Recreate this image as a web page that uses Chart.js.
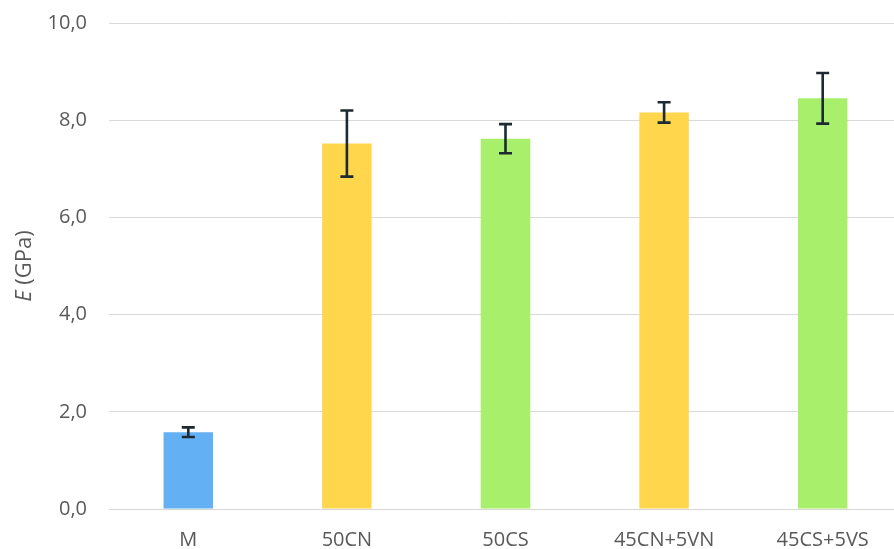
<!DOCTYPE html>
<html>
<head>
<meta charset="utf-8">
<script src="https://cdn.jsdelivr.net/npm/chart.js@4/dist/chart.umd.min.js"></script>
<style>
  html, body { margin: 0; padding: 0; background: #ffffff; overflow: hidden; }
  #wrap { position: relative; width: 902px; height: 549px; }
</style>
</head>
<body>
<div id="wrap"><canvas id="chart"></canvas></div>
<script>
// Young's modulus per sample, mean and standard deviation (GPa)
const categories = ['M', '50CN', '50CS', '45CN+5VN', '45CS+5VS'];
const modulus    = [1.58, 7.52, 7.62, 8.16, 8.45];
const deviation  = [0.10, 0.68, 0.30, 0.21, 0.52];
const barColors  = ['#63b1f4', '#ffd64c', '#a8ef6b', '#ffd64c', '#a8ef6b'];
const yTickLabels = ['0,0', '2,0', '4,0', '6,0', '8,0', '10,0'];
const axisTitleItalic = 'E';
const axisTitleRest = ' (GPa)';

const textColor = '#595959';
const fontFamily = '"Open Sans", sans-serif';

// Whiskers: vertical line from mean-sd to mean+sd with short caps
const errorBars = {
  id: 'errorBars',
  afterDatasetsDraw(chart) {
    const ctx = chart.ctx;
    const y = chart.scales.y;
    const meta = chart.getDatasetMeta(0);
    ctx.save();
    ctx.strokeStyle = '#1c2a32';
    ctx.lineWidth = 2.6;
    meta.data.forEach((bar, i) => {
      const x = bar.x;
      const top = y.getPixelForValue(modulus[i] + deviation[i]);
      const bot = y.getPixelForValue(modulus[i] - deviation[i]);
      const cap = 6.5;
      ctx.beginPath();
      ctx.moveTo(x, top); ctx.lineTo(x, bot);
      ctx.moveTo(x - cap, top); ctx.lineTo(x + cap, top);
      ctx.moveTo(x - cap, bot); ctx.lineTo(x + cap, bot);
      ctx.stroke();
    });
    ctx.restore();
  }
};

// Vertical axis title with an italic symbol followed by the unit
const axisTitle = {
  id: 'axisTitle',
  afterDraw(chart) {
    const ctx = chart.ctx;
    const size = 22;
    const italicFont = 'italic ' + size + 'px ' + fontFamily;
    const normalFont = size + 'px ' + fontFamily;
    ctx.save();
    ctx.font = italicFont;
    const w1 = ctx.measureText(axisTitleItalic).width;
    ctx.font = normalFont;
    const w2 = ctx.measureText(axisTitleRest).width;
    const cx = 25;
    const cy = (chart.chartArea.top + chart.chartArea.bottom) / 2;
    ctx.translate(cx, cy);
    ctx.rotate(-Math.PI / 2);
    ctx.fillStyle = textColor;
    ctx.textBaseline = 'middle';
    ctx.textAlign = 'left';
    const start = -(w1 + w2) / 2;
    ctx.font = italicFont;
    ctx.fillText(axisTitleItalic, start, 0);
    ctx.font = normalFont;
    ctx.fillText(axisTitleRest, start + w1, 0);
    ctx.restore();
  }
};

new Chart(document.getElementById('chart'), {
  type: 'bar',
  data: {
    labels: categories,
    datasets: [{
      data: modulus,
      backgroundColor: barColors,
      borderWidth: 0,
      categoryPercentage: 1.0,
      barPercentage: 0.312
    }]
  },
  options: {
    responsive: true,
    maintainAspectRatio: false,
    animation: false,
    layout: { padding: { top: 23, left: 0, right: 0, bottom: 0 } },
    plugins: {
      legend: { display: false },
      tooltip: { enabled: false }
    },
    scales: {
      x: {
        grid: { display: false, drawTicks: false },
        border: { display: true, color: '#d6d6d6', width: 1 },
        ticks: {
          color: textColor,
          font: { family: fontFamily, size: 20 },
          padding: 19,
          maxRotation: 0
        },
        afterFit(scale) {
          scale.height = 40;
          scale.paddingLeft = 0;
          scale.paddingRight = 0;
        }
      },
      y: {
        min: 0,
        max: 10,
        grid: { color: '#d9d9d9', lineWidth: 1, drawTicks: false },
        border: { display: false },
        ticks: {
          stepSize: 2,
          color: textColor,
          font: { family: fontFamily, size: 20 },
          padding: 22,
          callback: (v, i) => yTickLabels[i]
        },
        afterFit(scale) {
          scale.width = 109;
          scale.paddingTop = 0;
          scale.paddingBottom = 0;
        }
      }
    }
  },
  plugins: [errorBars, axisTitle]
});
</script>
</body>
</html>
